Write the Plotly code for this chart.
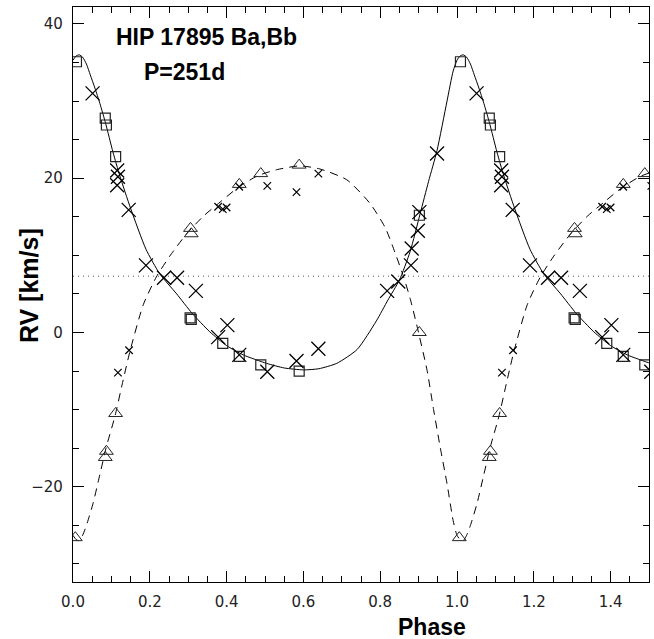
import plotly.graph_objects as go

# ---------------- data ----------------
# fitted orbit, primary (solid)
curve1_phase = [0.000, 0.008, 0.016, 0.025, 0.035, 0.045, 0.057, 0.070, 0.085, 0.104,
                0.122, 0.150, 0.190, 0.226, 0.270, 0.310, 0.356, 0.400, 0.443, 0.504,
                0.550, 0.600, 0.640, 0.687, 0.740, 0.790, 0.820, 0.850, 0.878, 0.904,
                0.926, 0.948, 0.974, 0.990, 1.000]
curve1_rv = [35.3, 35.85, 36.0, 35.7, 34.8, 33.4, 31.7, 29.7, 27.1, 23.4,
             20.3, 16.1, 10.8, 7.6, 5.0, 2.5, 0.1, -1.7, -2.9, -4.0,
             -4.6, -4.85, -4.7, -4.0, -2.2, 1.5, 4.2, 6.8, 10.5, 15.4,
             19.6, 23.6, 30.0, 33.9, 35.3]

# fitted orbit, secondary (dashed)
curve2_phase = [0.000, 0.008, 0.016, 0.025, 0.035, 0.052, 0.070, 0.087, 0.109, 0.130,
                0.148, 0.183, 0.217, 0.252, 0.296, 0.340, 0.383, 0.430, 0.480, 0.530,
                0.590, 0.643, 0.713, 0.774, 0.813, 0.839, 0.861, 0.878, 0.895, 0.922,
                0.939, 0.956, 0.974, 0.990, 1.000]
curve2_rv = [-26.3, -26.85, -27.0, -26.3, -25.0, -22.2, -18.4, -14.8, -10.9, -6.3,
             -2.5, 3.6, 7.2, 9.9, 12.8, 15.1, 16.9, 18.8, 20.3, 21.1,
             21.6, 21.2, 19.8, 16.7, 13.6, 10.3, 7.2, 4.4, 1.0, -4.9,
             -10.0, -14.8, -19.6, -24.4, -26.3]

gamma = 7.3

# primary, instrument A (squares)
sq_phase = [0.009, 0.084, 0.087, 0.111, 0.305, 0.308, 0.390, 0.433, 0.489, 0.589, 0.902]
sq_rv = [35.1, 27.8, 26.9, 22.8, 1.9, 1.7, -1.4, -3.1, -4.2, -5.0, 15.2]

# secondary, instrument A (triangles)
tr_phase = [0.006, 0.084, 0.087, 0.111, 0.306, 0.308, 0.433, 0.489, 0.589, 0.902]
tr_rv = [-26.6, -16.2, -15.4, -10.5, 13.5, 12.8, 19.2, 20.6, 21.7, 0.0]

# primary, instrument B (large crosses)
bx_phase = [0.051, 0.115, 0.117, 0.115, 0.145, 0.190, 0.237, 0.271, 0.320, 0.378,
            0.402, 0.433, 0.506, 0.582, 0.639, 0.818, 0.847, 0.880, 0.882, 0.898,
            0.902, 0.948]
bx_rv = [31.0, 21.0, 20.2, 19.1, 15.9, 8.7, 7.1, 7.1, 5.4, -0.6,
         0.95, -2.9, -5.1, -3.7, -2.1, 5.4, 6.6, 8.7, 10.9, 13.2,
         15.6, 23.2]

# secondary, instrument B (small crosses)
sx_phase = [0.117, 0.146, 0.378, 0.390, 0.400, 0.433, 0.506, 0.582, 0.639]
sx_rv = [-5.2, -2.3, 16.3, 16.0, 16.2, 18.9, 19.0, 18.2, 20.6]

x_range = [0.0, 1.5]
y_range = [-32.35, 42.2]
x_ticks = [0.0, 0.2, 0.4, 0.6, 0.8, 1.0, 1.2, 1.4]
x_ticklabels = ["0.0", "0.2", "0.4", "0.6", "0.8", "1.0", "1.2", "1.4"]
y_ticks = [-20, 0, 20, 40]
y_ticklabels = ["\u221220", "0", "20", "40"]

title_line1 = "HIP 17895 Ba,Bb"
title_line2 = "P=251d"
x_title = "Phase"
y_title = "RV [km/s]"


def repeat_points(ph, rv, upto=1.55):
    xs = list(ph) + [p + 1 for p in ph if p + 1 <= upto]
    ys = list(rv) + [v for p, v in zip(ph, rv) if p + 1 <= upto]
    return xs, ys


def repeat_curve(ph, rv):
    xs = list(ph) + [p + 1 for p in ph[1:]]
    ys = list(rv) + list(rv[1:])
    return xs, ys


fig = go.Figure()

cx, cy = repeat_curve(curve1_phase, curve1_rv)
fig.add_trace(go.Scatter(x=cx, y=cy, mode="lines",
                         line=dict(color="black", width=1, shape="spline", smoothing=0.6)))
cx, cy = repeat_curve(curve2_phase, curve2_rv)
fig.add_trace(go.Scatter(x=cx, y=cy, mode="lines",
                         line=dict(color="black", width=1, dash="8px,6px", shape="spline", smoothing=0.6)))
fig.add_trace(go.Scatter(x=x_range, y=[gamma, gamma], mode="lines",
                         line=dict(color="#555555", width=1, dash="1px,4px")))

px, py = repeat_points(sq_phase, sq_rv)
fig.add_trace(go.Scatter(x=px, y=py, mode="markers",
                         marker=dict(symbol="square-open", size=10, color="#222",
                                     line=dict(width=1.2, color="#222"))))
px, py = repeat_points(tr_phase, tr_rv)
fig.add_trace(go.Scatter(x=px, y=py, mode="markers",
                         marker=dict(symbol="triangle-up-open", size=12, color="#222",
                                     line=dict(width=1, color="#222"))))
px, py = repeat_points(bx_phase, bx_rv)
fig.add_trace(go.Scatter(x=px, y=py, mode="markers",
                         marker=dict(symbol="x-thin-open", size=14, color="black",
                                     line=dict(width=1.3, color="black"))))
px, py = repeat_points(sx_phase, sx_rv)
fig.add_trace(go.Scatter(x=px, y=py, mode="markers",
                         marker=dict(symbol="x-thin-open", size=7.5, color="black",
                                     line=dict(width=1.2, color="black"))))

tickfont = dict(family="DejaVu Sans", size=15, color="#222")
axis_common = dict(showline=True, linecolor="black", linewidth=1.2, mirror="allticks",
                   ticks="inside", ticklen=11, tickwidth=1, tickcolor="black",
                   showgrid=False, zeroline=False, tickfont=tickfont, automargin=False)

fig.update_xaxes(range=x_range, tickvals=x_ticks, ticktext=x_ticklabels,
                 minor=dict(dtick=0.05, ticks="inside", ticklen=6, tickwidth=1, tickcolor="black"),
                 ticklabelstandoff=6, **axis_common)
fig.update_yaxes(range=y_range, tickvals=y_ticks, ticktext=y_ticklabels,
                 minor=dict(dtick=5, ticks="inside", ticklen=6, tickwidth=1, tickcolor="black"),
                 ticklabelstandoff=6, **axis_common)

bold = dict(family="Liberation Sans, Arial, sans-serif", size=23, color="black")
bold_y = dict(family="Liberation Sans, Arial, sans-serif", size=25, color="black")
fig.add_annotation(text="<b>%s</b>" % title_line1, x=0.2326, y=0.948, xref="paper", yref="paper",
                   showarrow=False, xanchor="center", yanchor="middle", font=bold)
fig.add_annotation(text="<b>%s</b>" % title_line2, x=0.1932, y=0.887, xref="paper", yref="paper",
                   showarrow=False, xanchor="center", yanchor="middle", font=bold)
fig.add_annotation(text="<b>%s</b>" % x_title, x=0.623, y=-0.078, xref="paper", yref="paper",
                   showarrow=False, xanchor="center", yanchor="middle", font=bold)
fig.add_annotation(text="<b>%s</b>" % y_title, x=-0.076, y=0.515, xref="paper", yref="paper",
                   showarrow=False, xanchor="center", yanchor="middle", textangle=-90, font=bold_y)

fig.update_layout(width=654, height=639, margin=dict(l=73, r=5, t=7, b=57),
                  plot_bgcolor="white", paper_bgcolor="white", showlegend=False)

fig.write_html("out.html", config={"displayModeBar": False},
               post_script="document.body.style.margin='0';document.body.style.padding='0';")
